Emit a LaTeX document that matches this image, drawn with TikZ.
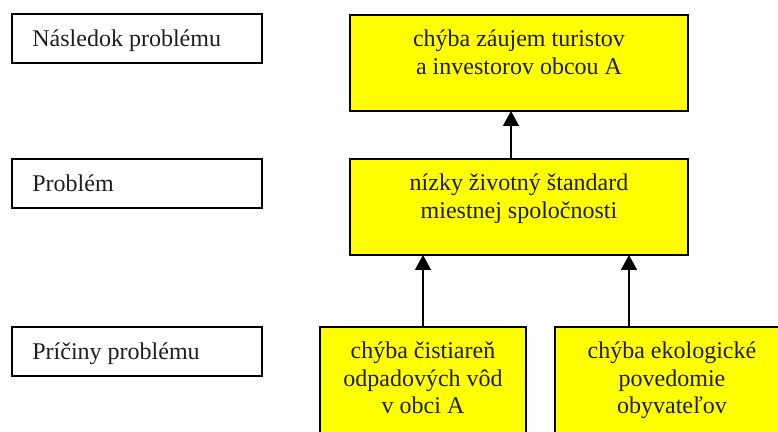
\documentclass[tikz,border=0pt]{standalone}
\usepackage{fontspec}
\setmainfont{Liberation Serif}
\usetikzlibrary{arrows.meta}
\definecolor{boxyellow}{RGB}{255,255,0}
\definecolor{inktext}{RGB}{30,30,30}
\begin{document}
\begin{tikzpicture}[x=0.5pt,y=-0.5pt,
  frame/.style={draw=black,line width=1pt,anchor=north west,inner sep=0pt,outer sep=0pt,rectangle},
  tag/.style={frame,fill=white,minimum width=125pt,minimum height=24.5pt},
  issue/.style={frame,fill=boxyellow},
  tagtext/.style={anchor=base west,inner sep=0pt,text=inktext,font=\fontsize{12}{13.75}\selectfont},
  boxtext/.style={anchor=base,inner sep=0pt,text=inktext,font=\fontsize{12}{13.75}\selectfont},
  link/.style={-{Triangle[width=8pt,length=7.5pt]},line width=0.8pt}
]
\useasboundingbox (0,0) rectangle (778,432);
\clip (0,0) rectangle (778,432);

% level captions
\node[tag] (l1) at (12,14) {};
\node[tag] (l2) at (12,159) {};
\node[tag] (l3) at (12,327) {};
\node[tagtext] (tl1) at ([xshift=10pt,yshift=-16.5pt]l1.north west) {Následok problému};
\node[tagtext] (tl2) at ([xshift=10pt,yshift=-16.5pt]l2.north west) {Problém};
\node[tagtext] (tl3) at ([xshift=10pt,yshift=-16.5pt]l3.north west) {Príčiny problému};

% problem tree boxes
\node[issue,minimum width=169pt,minimum height=48pt] (y1) at (350,15) {};
\node[issue,minimum width=169pt,minimum height=48pt] (y2) at (350,159) {};
\node[issue,minimum width=103pt,minimum height=60pt] (y3) at (320,327) {};
\node[issue,minimum width=117pt,minimum height=60pt] (y4) at (555,327) {};

\node[boxtext] (ty1) at ([yshift=-16pt]y1.north) {\parbox[t]{160pt}{\centering chýba záujem turistov\\a investorov obcou A}};
\node[boxtext] (ty2) at ([yshift=-16pt]y2.north) {\parbox[t]{160pt}{\centering nízky životný štandard\\miestnej spoločnosti}};
\node[boxtext] (ty3) at ([yshift=-16pt]y3.north) {\parbox[t]{100pt}{\centering chýba čistiareň\\odpadových vôd\\v obci A}};
\node[boxtext] (ty4) at ([yshift=-16pt]y4.north) {\parbox[t]{110pt}{\centering chýba ekologické\\povedomie\\obyvateľov}};

% cause-effect arrows
\draw[link] ([xshift=-4pt]y2.north) -- ([xshift=-4pt]y1.south);
\draw[link] (y3.north) -- (y3.north |- y2.south);
\draw[link] ([xshift=37pt]y4.north west) -- ([xshift=37pt]y4.north west |- y2.south);
\end{tikzpicture}
\end{document}
